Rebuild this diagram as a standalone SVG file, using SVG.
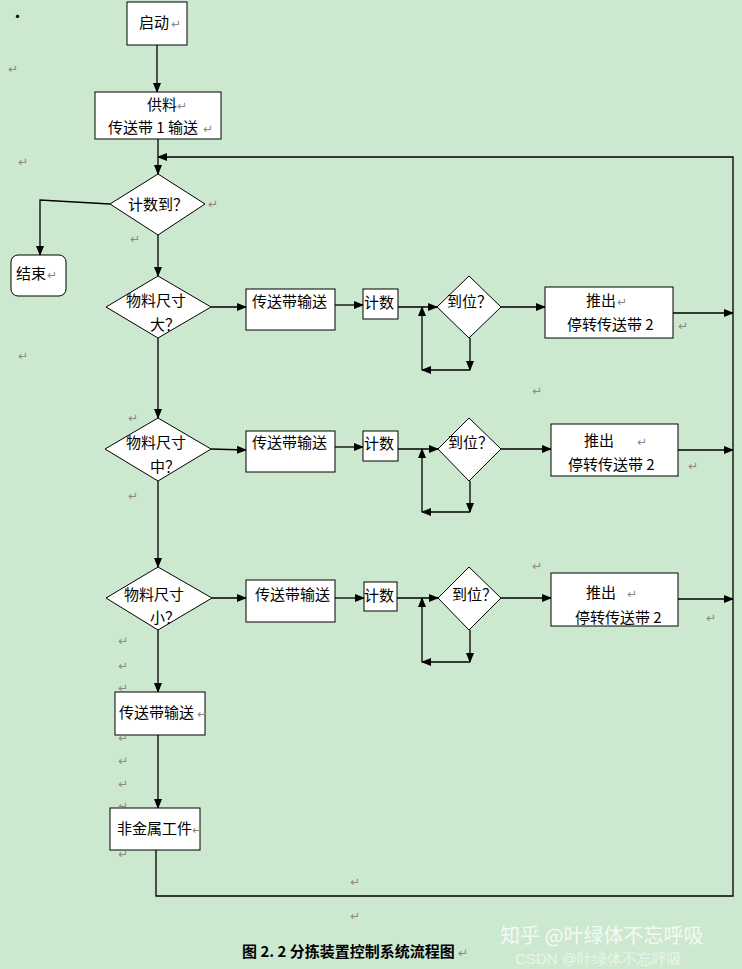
<svg xmlns="http://www.w3.org/2000/svg" width="742" height="969" viewBox="0 0 742 969">
<defs><marker id="a" markerWidth="10" markerHeight="8" refX="9" refY="4" orient="auto" markerUnits="userSpaceOnUse"><path d="M0,0L10,4L0,8z" fill="#000"/></marker></defs>
<style>
.n{fill:#fff;stroke:#000;stroke-width:1}
.t{font-family:"Noto Sans CJK SC",sans-serif;font-size:15px;fill:#000}
.p{font-family:"DejaVu Sans",sans-serif;font-size:12px;fill:#888}
.c line,.c polyline{stroke:#000;stroke-width:1.3;fill:none}
</style>
<rect width="742" height="969" fill="#cce8cf"/>
<g class="c">
<line x1="157" y1="45" x2="157" y2="92" marker-end="url(#a)"/>
<line x1="158" y1="139" x2="158" y2="174" marker-end="url(#a)"/>
<polyline points="110,204 40,200 40,255" marker-end="url(#a)"/>
<line x1="158" y1="235" x2="158" y2="276" marker-end="url(#a)"/>
<line x1="158" y1="338" x2="158" y2="418" marker-end="url(#a)"/>
<line x1="158" y1="481" x2="158" y2="567" marker-end="url(#a)"/>
<line x1="158" y1="630" x2="158" y2="692" marker-end="url(#a)"/>
<line x1="158" y1="735" x2="158" y2="808" marker-end="url(#a)"/>
<polyline points="156,850 156,896 733,896 733,157 158,157" marker-end="url(#a)"/>
<line x1="211" y1="307" x2="246" y2="307" marker-end="url(#a)"/>
<line x1="335" y1="305" x2="363" y2="305" marker-end="url(#a)"/>
<line x1="398" y1="307" x2="437" y2="307" marker-end="url(#a)"/>
<line x1="501" y1="307" x2="545" y2="307" marker-end="url(#a)"/>
<line x1="673" y1="313" x2="733" y2="313" marker-end="url(#a)"/>
<line x1="470" y1="338" x2="470" y2="370" marker-end="url(#a)"/>
<line x1="470" y1="370" x2="422" y2="370" marker-end="url(#a)"/>
<line x1="422" y1="370" x2="422" y2="307" marker-end="url(#a)"/>
<line x1="211" y1="449" x2="246" y2="450" marker-end="url(#a)"/>
<line x1="335" y1="447" x2="363" y2="447" marker-end="url(#a)"/>
<line x1="398" y1="449" x2="438" y2="449" marker-end="url(#a)"/>
<line x1="501" y1="449" x2="551" y2="449" marker-end="url(#a)"/>
<line x1="678" y1="450" x2="733" y2="450" marker-end="url(#a)"/>
<line x1="470" y1="481" x2="470" y2="512" marker-end="url(#a)"/>
<line x1="470" y1="512" x2="422" y2="512" marker-end="url(#a)"/>
<line x1="422" y1="512" x2="422" y2="449" marker-end="url(#a)"/>
<line x1="212" y1="598" x2="246" y2="598" marker-end="url(#a)"/>
<line x1="335" y1="598" x2="364" y2="598" marker-end="url(#a)"/>
<line x1="397" y1="598" x2="438" y2="598" marker-end="url(#a)"/>
<line x1="501" y1="598" x2="551" y2="598" marker-end="url(#a)"/>
<line x1="678" y1="599" x2="733" y2="599" marker-end="url(#a)"/>
<line x1="470" y1="630" x2="470" y2="662" marker-end="url(#a)"/>
<line x1="470" y1="662" x2="422" y2="662" marker-end="url(#a)"/>
<line x1="422" y1="662" x2="422" y2="598" marker-end="url(#a)"/>
</g>
<g id="start"><rect class="n" x="127" y="2" width="60" height="43"/><text class="t" x="139" y="28">启动</text><text class="p" x="171" y="28">↵</text></g>
<g id="feed"><rect class="n" x="95" y="92" width="126" height="47"/><text class="t" x="147" y="110">供料</text><text class="t" x="108" y="133">传送带 1 输送</text><text class="p" x="177" y="110">↵</text><text class="p" x="203" y="133">↵</text></g>
<g id="count"><polygon class="n" points="158,174 205,204 158,235 110,204"/><text class="t" x="128" y="210">计数到？</text></g>
<g id="end"><rect class="n" x="11" y="255" width="55" height="41" rx="7"/><text class="t" x="16" y="279">结束</text><text class="p" x="47" y="279">↵</text></g>
<g id="d1"><polygon class="n" points="158,276 211,307 158,338 106,307"/><text class="t" x="126" y="306">物料尺寸</text><text class="t" x="150" y="330">大？</text></g>
<g id="b1"><rect class="n" x="246" y="289" width="89" height="41"/><text class="t" x="252" y="307">传送带输送</text></g>
<g id="c1"><rect class="n" x="363" y="289" width="35" height="30"/><text class="t" x="364" y="308">计数</text></g>
<g id="p1"><polygon class="n" points="469,276 501,307 469,338 437,307"/><text class="t" x="447" y="307">到位？</text></g>
<g id="r1"><rect class="n" x="545" y="287" width="128" height="51"/><text class="t" x="586" y="306">推出</text><text class="p" x="617" y="306">↵</text><text class="t" x="567" y="330">停转传送带 2</text></g>
<g id="d2"><polygon class="n" points="158,418 211,449 158,481 105,449"/><text class="t" x="126" y="448">物料尺寸</text><text class="t" x="150" y="472">中？</text></g>
<g id="b2"><rect class="n" x="246" y="431" width="89" height="41"/><text class="t" x="252" y="448">传送带输送</text></g>
<g id="c2"><rect class="n" x="363" y="431" width="35" height="30"/><text class="t" x="364" y="449">计数</text></g>
<g id="p2"><polygon class="n" points="469,418 501,449 469,481 438,449"/><text class="t" x="448" y="448">到位？</text></g>
<g id="r2"><rect class="n" x="551" y="424" width="127" height="52"/><text class="t" x="584" y="446">推出</text><text class="p" x="637" y="446">↵</text><text class="t" x="568" y="470">停转传送带 2</text></g>
<g id="d3"><polygon class="n" points="158,567 212,598 158,630 106,598"/><text class="t" x="124" y="600">物料尺寸</text><text class="t" x="150" y="623">小？</text></g>
<g id="b3"><rect class="n" x="246" y="580" width="89" height="42"/><text class="t" x="255" y="600">传送带输送</text></g>
<g id="c3"><rect class="n" x="364" y="582" width="33" height="29"/><text class="t" x="364" y="601">计数</text></g>
<g id="p3"><polygon class="n" points="469,567 501,598 469,630 438,598"/><text class="t" x="452" y="600">到位？</text></g>
<g id="r3"><rect class="n" x="551" y="573" width="127" height="53"/><text class="t" x="586" y="598">推出</text><text class="p" x="627" y="598">↵</text><text class="t" x="575" y="623">停转传送带 2</text></g>
<g id="belt"><rect class="n" x="115" y="692" width="90" height="43"/><text class="t" x="119" y="718">传送带输送</text><text class="p" x="197" y="718">↵</text></g>
<g id="metal"><rect class="n" x="110" y="808" width="90" height="42"/><text class="t" x="117" y="834">非金属工件</text><text class="p" x="192" y="834">↵</text></g>
<g id="marks">
<text class="t" x="10" y="22" font-size="12">·</text>
<text class="p" x="8" y="73">↵</text><text class="p" x="18" y="166">↵</text><text class="p" x="208" y="208">↵</text><text class="p" x="130" y="243">↵</text>
<text class="p" x="18" y="360">↵</text><text class="p" x="678" y="330">↵</text><text class="p" x="532" y="395">↵</text><text class="p" x="128" y="422">↵</text>
<text class="p" x="688" y="470">↵</text><text class="p" x="128" y="500">↵</text><text class="p" x="532" y="570">↵</text><text class="p" x="706" y="622">↵</text>
<text class="p" x="118" y="645">↵</text><text class="p" x="118" y="670">↵</text><text class="p" x="118" y="692">↵</text><text class="p" x="118" y="742">↵</text>
<text class="p" x="118" y="765">↵</text><text class="p" x="118" y="788">↵</text><text class="p" x="118" y="810">↵</text><text class="p" x="118" y="858">↵</text>
<text class="p" x="350" y="886">↵</text><text class="p" x="350" y="920">↵</text>
</g>
<text class="t" x="242" y="957" font-size="14" font-weight="bold">图 2. 2 分拣装置控制系统流程图</text><text class="p" x="458" y="957">↵</text>
<text x="500" y="943" font-family="Noto Sans CJK SC,sans-serif" font-size="20" fill="#fff" fill-opacity="0.8">知乎 @叶绿体不忘呼吸</text>
<text x="515" y="964" font-family="Liberation Sans,sans-serif" font-size="15" fill="#fff" fill-opacity="0.6">CSDN @叶绿体不忘呼吸</text>
</svg>
